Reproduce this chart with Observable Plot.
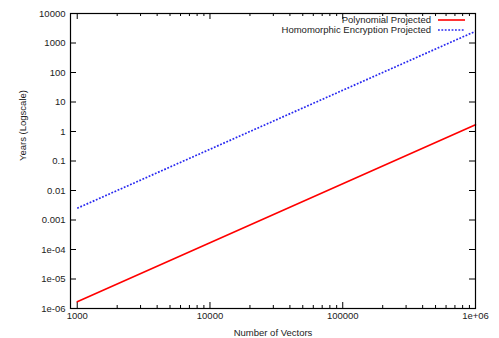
<!DOCTYPE html>
<html>
<head>
<meta charset="utf-8">
<script src="https://cdn.jsdelivr.net/npm/d3@7"></script>
<script src="https://cdn.jsdelivr.net/npm/@observablehq/plot@0.6"></script>
<style>
  html, body { margin: 0; padding: 0; background: #fff; }
  #wrap { position: relative; width: 499px; height: 338px; font-family: "Liberation Sans", Arial, Helvetica, sans-serif; }
  #legend { position: absolute; top: 15px; right: 34px; font-size: 9.5px; color: #222; line-height: 10px; }
  #legend .row { display: flex; align-items: center; justify-content: flex-end; height: 10px; }
  #legend svg { margin-left: 7px; }
</style>
</head>
<body>
<div id="wrap">
  <div id="chart"></div>
  <div id="legend"></div>
</div>
<script>
// Data
const vectors = [1000, 10000, 100000, 1000000];
const polynomialYears = [1.7e-6, 1.7e-4, 1.7e-2, 1.7];
const homomorphicYears = [0.0025, 0.25, 25, 2500];

const seriesNames = ["Polynomial Projected", "Homomorphic Encryption Projected"];
const seriesColors = ["#ff0000", "#2828f0"];
const seriesDash = [null, "1.8,1.6"];

const xTicks = [1000, 10000, 100000, 1000000];
const xTickLabels = ["1000", "10000", "100000", "1e+06"];
const xMinorTicks = [2000,3000,4000,5000,6000,7000,8000,9000,
                     20000,30000,40000,50000,60000,70000,80000,90000,
                     200000,300000,400000,500000,600000,700000,800000,900000];
const yTicks = [1e-6, 1e-5, 1e-4, 1e-3, 1e-2, 1e-1, 1, 10, 100, 1000, 10000];
const yTickLabels = ["1e-06", "1e-05", "1e-04", "0.001", "0.01", "0.1", "1", "10", "100", "1000", "10000"];

const W = 499, H = 338;
const mL = 70, mR = 24, mT = 13, mB = 30;
const frameW = W - mL - mR, frameH = H - mT - mB;
const major = 6, minor = 3;

const poly = vectors.map((v, i) => ({x: v, y: polynomialYears[i]}));
const homo = vectors.map((v, i) => ({x: v, y: homomorphicYears[i]}));

const chart = Plot.plot({
  width: W, height: H,
  marginLeft: mL, marginRight: mR, marginTop: mT, marginBottom: mB,
  style: {fontFamily: "'Liberation Sans', Arial, Helvetica, sans-serif", fontSize: "9.5px", color: "#222", background: "#fff"},
  x: {type: "log", domain: [890, 1e6]},
  y: {type: "log", domain: [1e-6, 1e4]},
  marks: [
    Plot.axisX(xTicks, {anchor: "bottom", tickSize: 0, tickPadding: 4, tickFormat: (d) => xTickLabels[xTicks.indexOf(d)], label: null}),
    Plot.axisY(yTicks, {anchor: "left", tickSize: 0, tickPadding: 5, tickFormat: (d) => yTickLabels[yTicks.indexOf(d)], label: null}),
    // inward ticks, mirrored on all sides
    Plot.tickX(xTicks, {x: d => d, insetTop: frameH - major, stroke: "black"}),
    Plot.tickX(xTicks, {x: d => d, insetBottom: frameH - major, stroke: "black"}),
    Plot.tickX(xMinorTicks, {x: d => d, insetTop: frameH - minor, stroke: "black"}),
    Plot.tickX(xMinorTicks, {x: d => d, insetBottom: frameH - minor, stroke: "black"}),
    Plot.tickY(yTicks, {y: d => d, insetRight: frameW - major, stroke: "black"}),
    Plot.tickY(yTicks, {y: d => d, insetLeft: frameW - major, stroke: "black"}),
    Plot.line(poly, {x: "x", y: "y", stroke: seriesColors[0], strokeWidth: 1.6}),
    Plot.line(homo, {x: "x", y: "y", stroke: seriesColors[1], strokeWidth: 1.7, strokeDasharray: seriesDash[1], strokeLinecap: "butt"}),
    Plot.frame({stroke: "black", strokeWidth: 1.2}),
    Plot.text(["Number of Vectors"], {frameAnchor: "bottom", dy: 24, lineAnchor: "middle", fill: "#222"}),
    Plot.text(["Years (Logscale)"], {frameAnchor: "left", dx: -48, rotate: -90, fill: "#222"})
  ]
});
document.getElementById("chart").appendChild(chart);

const legend = document.getElementById("legend");
seriesNames.forEach((name, i) => {
  const row = document.createElement("div");
  row.className = "row";
  const span = document.createElement("span");
  span.textContent = name;
  row.appendChild(span);
  const svg = d3.create("svg").attr("width", 27).attr("height", 10);
  svg.append("line").attr("x1", 0).attr("x2", 27).attr("y1", 5).attr("y2", 5)
    .attr("stroke", seriesColors[i]).attr("stroke-width", i === 0 ? 1.6 : 1.7)
    .attr("stroke-dasharray", seriesDash[i]);
  row.appendChild(svg.node());
  legend.appendChild(row);
});
</script>
</body>
</html>
